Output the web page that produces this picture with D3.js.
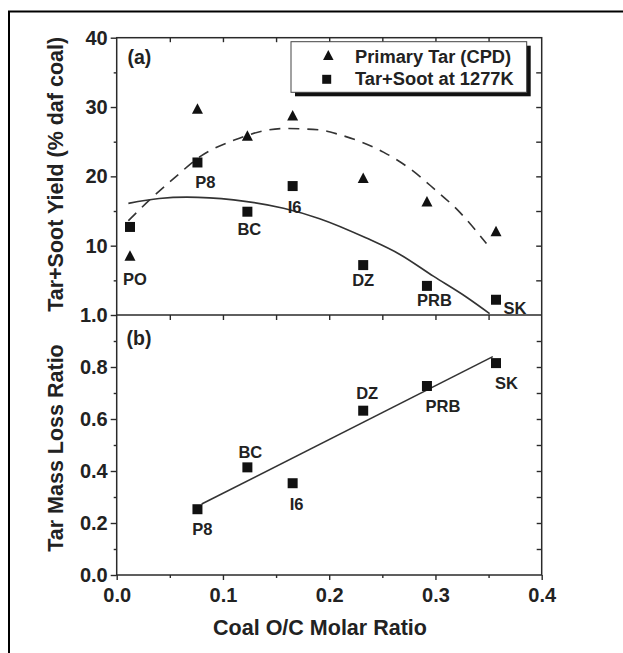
<!DOCTYPE html>
<html>
<head>
<meta charset="utf-8">
<script src="https://cdn.jsdelivr.net/npm/d3@7"></script>
<style>
  html, body { margin: 0; padding: 0; background: #fff; }
  svg { display: block; }
  text { font-family: "Liberation Sans", Arial, Helvetica, sans-serif; font-weight: bold; fill: #222; }
</style>
</head>
<body>
<svg id="chart" width="623" height="653"></svg>
<script>
// Coals ordered by oxygen content
const coals = ["PO", "P8", "BC", "I6", "DZ", "PRB", "SK"];
const ocRatio = [0.0125, 0.076, 0.123, 0.1656, 0.232, 0.292, 0.357];

// (a) yields, % daf coal
const primaryTar = [8.6, 29.8, 25.9, 28.8, 19.8, 16.4, 12.1];
const tarSoot1277 = [12.7, 22.0, 14.9, 18.6, 7.2, 4.2, 2.2];

// (a) fitted trend curves
const primaryFitX = [0.011, 0.031, 0.056, 0.078, 0.110, 0.157, 0.191, 0.210, 0.251, 0.276, 0.298, 0.323, 0.348];
const primaryFitY = [13.6, 16.6, 20.0, 22.8, 25.2, 26.9, 26.7, 26.0, 23.5, 21.1, 18.3, 14.8, 10.3];
const tarSootFitX = [0.011, 0.040, 0.066, 0.110, 0.157, 0.191, 0.235, 0.267, 0.298, 0.329, 0.351];
const tarSootFitY = [16.1, 16.8, 17.0, 16.6, 15.4, 13.9, 11.1, 8.7, 5.6, 2.6, 0.2];

// (b) tar mass loss ratio (no PO point)
const lossCoals = ["P8", "BC", "I6", "DZ", "PRB", "SK"];
const lossOC = [0.076, 0.123, 0.1656, 0.232, 0.292, 0.357];
const lossRatio = [0.253, 0.414, 0.353, 0.632, 0.727, 0.815];
const lossFitX = [0.080, 0.354];
const lossFitY = [0.273, 0.840];

// Axis ticks
const xMajor = [0, 0.1, 0.2, 0.3, 0.4];
const xMinor = [0.05, 0.15, 0.25, 0.35];
const yaMajor = [10, 20, 30, 40];
const yaMinor = [5, 15, 25, 35];
const ybMajor = [0, 0.2, 0.4, 0.6, 0.8, 1.0];
const ybMinor = [0.1, 0.3, 0.5, 0.7, 0.9];

const legendLabels = ["Primary Tar (CPD)", "Tar+Soot at 1277K"];

// Label placement around markers (pixels)
const labelOffsetA = {
  PO: [5, 29.5, "middle", "tri"], P8: [8, 26, "middle"], BC: [2, 23.5, "middle"], I6: [2, 27, "middle"],
  DZ: [0, 20.5, "middle"], PRB: [7.5, 20, "middle"], SK: [7.5, 14, "start"]
};
const labelOffsetB = {
  P8: [5, 26], BC: [3, -9.5], I6: [4, 27], DZ: [4, -11.5], PRB: [16, 26.5], SK: [10.5, 25.5]
};

const svg = d3.select("#chart");
const L = 116.7, R = 541.7, TOP = 37.7, MID = 315, BOT = 575;
const ink = "#2a2a2a";

const x = d3.scaleLinear().domain([0, 0.4]).range([L, R]);
const yA = d3.scaleLinear().domain([0, 40]).range([MID, TOP]);
const yB = d3.scaleLinear().domain([0, 1]).range([BOT, MID]);

// outer frame (top and left edges)
svg.append("path")
  .attr("d", `M9,653 V11.5 H623`)
  .attr("fill", "none").attr("stroke", "#000").attr("stroke-width", 2);

function styleAxis(g) {
  g.select(".domain").remove();
  g.selectAll("line").attr("stroke", ink).attr("stroke-width", 1.4);
  g.selectAll("text").attr("font-size", 20).attr("fill", "#222")
    .attr("font-family", '"Liberation Sans", Arial, sans-serif').attr("font-weight", "bold");
}

// Left axes
svg.append("g").attr("transform", `translate(${L},0)`)
  .call(d3.axisLeft(yA).tickValues(yaMajor).tickSize(6).tickPadding(3).tickFormat(d3.format("d")))
  .call(styleAxis);
svg.append("g").attr("transform", `translate(${L},0)`)
  .call(d3.axisLeft(yA).tickValues(yaMinor).tickSize(3).tickFormat(""))
  .call(styleAxis);
svg.append("g").attr("transform", `translate(${L},0)`)
  .call(d3.axisLeft(yB).tickValues(ybMajor).tickSize(6).tickPadding(3).tickFormat(d3.format(".1f")))
  .call(styleAxis);
svg.append("g").attr("transform", `translate(${L},0)`)
  .call(d3.axisLeft(yB).tickValues(ybMinor).tickSize(3).tickFormat(""))
  .call(styleAxis);

// Bottom axis
svg.append("g").attr("transform", `translate(0,${BOT})`)
  .call(d3.axisBottom(x).tickValues(xMajor).tickSize(5).tickPadding(8).tickFormat(d3.format(".1f")))
  .call(styleAxis);
svg.append("g").attr("transform", `translate(0,${BOT})`)
  .call(d3.axisBottom(x).tickValues(xMinor).tickSize(3).tickFormat(""))
  .call(styleAxis);

// Inward mirror ticks: top, shared middle, right
const innerX = xMajor.slice(1, -1).concat(xMinor);
svg.append("g").attr("transform", `translate(0,${TOP})`)
  .call(d3.axisBottom(x).tickValues(innerX).tickSize(4.5).tickFormat(""))
  .call(styleAxis);
svg.append("g").attr("transform", `translate(0,${MID})`)
  .call(d3.axisBottom(x).tickValues(innerX).tickSize(5).tickFormat(""))
  .call(styleAxis);
svg.append("g").attr("transform", `translate(${R},0)`)
  .call(d3.axisLeft(yA).tickValues(yaMajor.slice(0, -1).concat(yaMinor)).tickFormat(""))
  .call(g => { styleAxis(g); g.selectAll("line").attr("x2", -5.5); });
svg.append("g").attr("transform", `translate(${R},0)`)
  .call(d3.axisLeft(yB).tickValues(ybMajor.slice(1, -1).concat(ybMinor)).tickFormat(""))
  .call(g => { styleAxis(g); g.selectAll("line").attr("x2", -5); });

// Panel frames
svg.append("rect").attr("x", L).attr("y", TOP).attr("width", R - L).attr("height", BOT - TOP)
  .attr("fill", "none").attr("stroke", ink).attr("stroke-width", 1.5);
svg.append("line").attr("x1", L).attr("x2", R).attr("y1", MID).attr("y2", MID)
  .attr("stroke", ink).attr("stroke-width", 1.5);

// Axis titles
svg.append("text").attr("transform", `translate(63,${(TOP + MID) / 2 - 2}) rotate(-90)`)
  .attr("text-anchor", "middle").attr("font-size", 21.5).text("Tar+Soot Yield (% daf coal)");
svg.append("text").attr("transform", `translate(63,${(MID + BOT) / 2 + 3}) rotate(-90)`)
  .attr("text-anchor", "middle").attr("font-size", 21.5).text("Tar Mass Loss Ratio");
svg.append("text").attr("x", 320).attr("y", 635)
  .attr("text-anchor", "middle").attr("font-size", 21.5).text("Coal O/C Molar Ratio");

// Panel tags
svg.append("text").attr("x", 127.5).attr("y", 64).attr("font-size", 19.5).text("(a)");
svg.append("text").attr("x", 126.5).attr("y", 345).attr("font-size", 19.5).text("(b)");

// Marker shapes
const tri = (w, h) => `M0,${-h / 2}L${w / 2},${h / 2}L${-w / 2},${h / 2}Z`;
const sq = s => `M${-s / 2},${-s / 2}h${s}v${s}h${-s}Z`;

// (a) fitted curves
svg.append("clipPath").attr("id", "clipA")
  .append("rect").attr("x", L).attr("y", TOP).attr("width", R - L).attr("height", MID - TOP);
const lineA = d3.line().x(d => x(d[0])).y(d => yA(d[1])).curve(d3.curveMonotoneX);
svg.append("path").datum(d3.zip(primaryFitX, primaryFitY))
  .attr("d", lineA).attr("fill", "none").attr("stroke", "#333").attr("stroke-width", 1.6)
  .attr("stroke-dasharray", "11,8").attr("clip-path", "url(#clipA)");
svg.append("path").datum(d3.zip(tarSootFitX, tarSootFitY))
  .attr("d", lineA).attr("fill", "none").attr("stroke", "#333").attr("stroke-width", 1.6)
  .attr("clip-path", "url(#clipA)");

// (a) markers
svg.append("g").selectAll("path").data(d3.zip(ocRatio, primaryTar)).join("path")
  .attr("transform", d => `translate(${x(d[0])},${yA(d[1])})`)
  .attr("d", tri(11, 10.5)).attr("fill", "#111");
svg.append("g").selectAll("path").data(d3.zip(ocRatio, tarSoot1277)).join("path")
  .attr("transform", d => `translate(${x(d[0])},${yA(d[1])})`)
  .attr("d", sq(10)).attr("fill", "#111");

// (a) coal labels
svg.append("g").selectAll("text").data(coals).join("text")
  .attr("x", (c, i) => x(ocRatio[i]) + labelOffsetA[c][0])
  .attr("y", (c, i) => (labelOffsetA[c][3] === "tri" ? yA(primaryTar[i]) : yA(tarSoot1277[i])) + labelOffsetA[c][1])
  .attr("text-anchor", c => labelOffsetA[c][2])
  .attr("font-size", 16.5).text(c => c);

// (b) linear fit and markers
const lineB = d3.line().x(d => x(d[0])).y(d => yB(d[1]));
svg.append("path").datum(d3.zip(lossFitX, lossFitY))
  .attr("d", lineB).attr("fill", "none").attr("stroke", "#333").attr("stroke-width", 1.6);
svg.append("g").selectAll("path").data(d3.zip(lossOC, lossRatio)).join("path")
  .attr("transform", d => `translate(${x(d[0])},${yB(d[1])})`)
  .attr("d", sq(10)).attr("fill", "#111");
svg.append("g").selectAll("text").data(lossCoals).join("text")
  .attr("x", (c, i) => x(lossOC[i]) + labelOffsetB[c][0])
  .attr("y", (c, i) => yB(lossRatio[i]) + labelOffsetB[c][1])
  .attr("text-anchor", "middle")
  .attr("font-size", 16.5).text(c => c);

// Legend with drop shadow
const lg = svg.append("g");
lg.append("rect").attr("x", 295).attr("y", 45.7).attr("width", 235.7).attr("height", 50.6).attr("fill", "#111");
lg.append("rect").attr("x", 291).attr("y", 41.7).attr("width", 235.7).attr("height", 50.6)
  .attr("fill", "#fff").attr("stroke", "#444").attr("stroke-width", 1);
lg.append("path").attr("transform", "translate(328.3,55)").attr("d", tri(10.5, 10)).attr("fill", "#111");
lg.append("path").attr("transform", "translate(326.7,79.3)").attr("d", sq(9)).attr("fill", "#111");
lg.selectAll("text.lab").data(legendLabels).join("text").attr("class", "lab")
  .attr("x", 355).attr("y", (d, i) => 62.8 + i * 22.3)
  .attr("font-size", 18.3).text(d => d);
</script>
</body>
</html>
